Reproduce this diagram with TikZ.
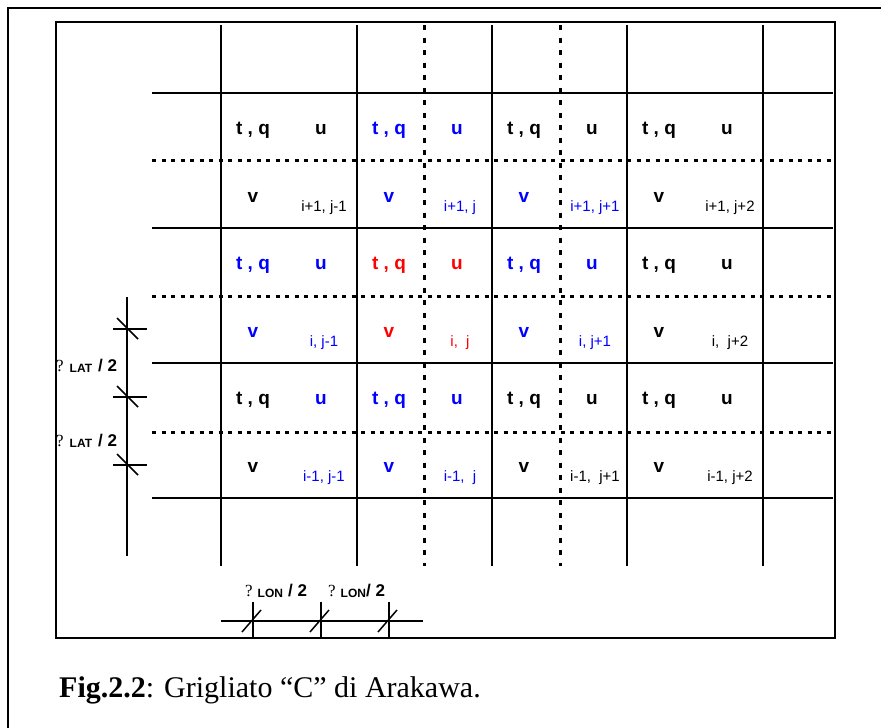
\documentclass[tikz,border=0pt]{standalone}
\usepackage{fontspec}
\setmainfont{Liberation Serif}
\setsansfont{Liberation Sans}

\begin{document}
\begin{tikzpicture}[x=1pt, y=-1pt,
    var/.style={font=\sffamily\bfseries\fontsize{19}{22}\selectfont, inner sep=0pt},
    idx/.style={font=\sffamily\fontsize{15}{18}\selectfont, inner sep=0pt},
    dimlabel/.style={anchor=base west, inner sep=0pt, font=\sffamily\bfseries},
    gline/.style={line width=1.8pt},
    dotline/.style={line width=3pt, dash pattern=on 4pt off 5.5pt},
    vdotline/.style={line width=3pt, dash pattern=on 5pt off 7.5pt},
    boxline/.style={line width=2pt},
    dimline/.style={line width=1.5pt}]
\useasboundingbox (0,0) rectangle (881,728);

\draw[boxline] (8,740) |- (890,8);
\draw[boxline] (56,22) rectangle (835,638);

\foreach \y in {93,228,363,498} \draw[gline] (152,\y) -- (833,\y);
\foreach \y in {160,296,432} \draw[dotline] (152,\y) -- (833,\y);
\foreach \x in {221,357,492,627,763} \draw[gline] (\x,25) -- (\x,566);
\foreach \x in {424,560} \draw[vdotline] (\x,25) -- (\x,566);

% cell contents: column, row, colours of t,q / u / v / index
\foreach \c/\r/\ktq/\ku/\kv/\ki/\txt/\nm in {
    221/93/black/black/black/black/{i+1, j-1}/a1,
    357/93/blue/blue/blue/blue/{i+1, j}/a2,
    492/93/black/black/blue/blue/{i+1, j+1}/a3,
    627/93/black/black/black/black/{i+1, j+2}/a4,
    221/228/blue/blue/blue/blue/{i, j-1}/b1,
    357/228/red/red/red/red/{i,~~j}/b2,
    492/228/blue/blue/blue/blue/{i, j+1}/b3,
    627/228/black/black/black/black/{i,~~j+2}/b4,
    221/363/black/blue/black/blue/{i-1, j-1}/c1,
    357/363/blue/blue/blue/blue/{i-1,~~j}/c2,
    492/363/black/black/black/black/{i-1,~~j+1}/c3,
    627/363/black/black/black/black/{i-1, j+2}/c4}
{
    \node[var, text=\ktq] (tq\nm) at (\c+32,\r+37) {t , q};
    \node[var, text=\ku] (u\nm) at (\c+100,\r+37) {u};
    \node[var, text=\kv] (v\nm) at (\c+32,\r+104) {v};
    \node[idx, text=\ki] (ix\nm) at (\c+103,\r+115) {\txt};
}

% latitude marks
\draw[dimline] (127,297) -- (127,556);
\foreach \y in {329,397,465} {
    \draw[dimline] (113,\y) -- (147,\y);
    \draw[dimline] (117,\y-11) -- (138,\y+10);
}
\node[dimlabel] (lat1) at (56,371) {{\rmfamily\mdseries\fontsize{17}{20}\selectfont ?}\hspace{6pt}\raisebox{-1.5pt}{\fontsize{12}{14}\selectfont LAT}\hspace{6pt}{\fontsize{17}{20}\selectfont / 2}};
\node[dimlabel] (lat2) at (56,446) {{\rmfamily\mdseries\fontsize{17}{20}\selectfont ?}\hspace{6pt}\raisebox{-1.5pt}{\fontsize{12}{14}\selectfont LAT}\hspace{6pt}{\fontsize{17}{20}\selectfont / 2}};

% longitude marks
\draw[dimline] (221,621) -- (423,621);
\foreach \x in {253,321,389} {
    \draw[dimline] (\x,602) -- (\x,637);
    \draw[dimline] (\x-11,632) -- (\x+8,610);
}
\node[dimlabel] (lon1) at (245,596) {{\rmfamily\mdseries\fontsize{17}{20}\selectfont ?}\hspace{5pt}\raisebox{-1.5pt}{\fontsize{12}{14}\selectfont LON}\hspace{5pt}{\fontsize{17}{20}\selectfont / 2}};
\node[dimlabel] (lon2) at (328,596) {{\rmfamily\mdseries\fontsize{17}{20}\selectfont ?}\hspace{5pt}\raisebox{-1.5pt}{\fontsize{12}{14}\selectfont LON}{\fontsize{17}{20}\selectfont / 2}};

\node[anchor=base west, inner sep=0pt, font=\rmfamily\fontsize{30}{36}\selectfont] (caption) at (59,697) {\textbf{Fig.2.2}: Grigliato “C” di Arakawa.};
\end{tikzpicture}
\end{document}
